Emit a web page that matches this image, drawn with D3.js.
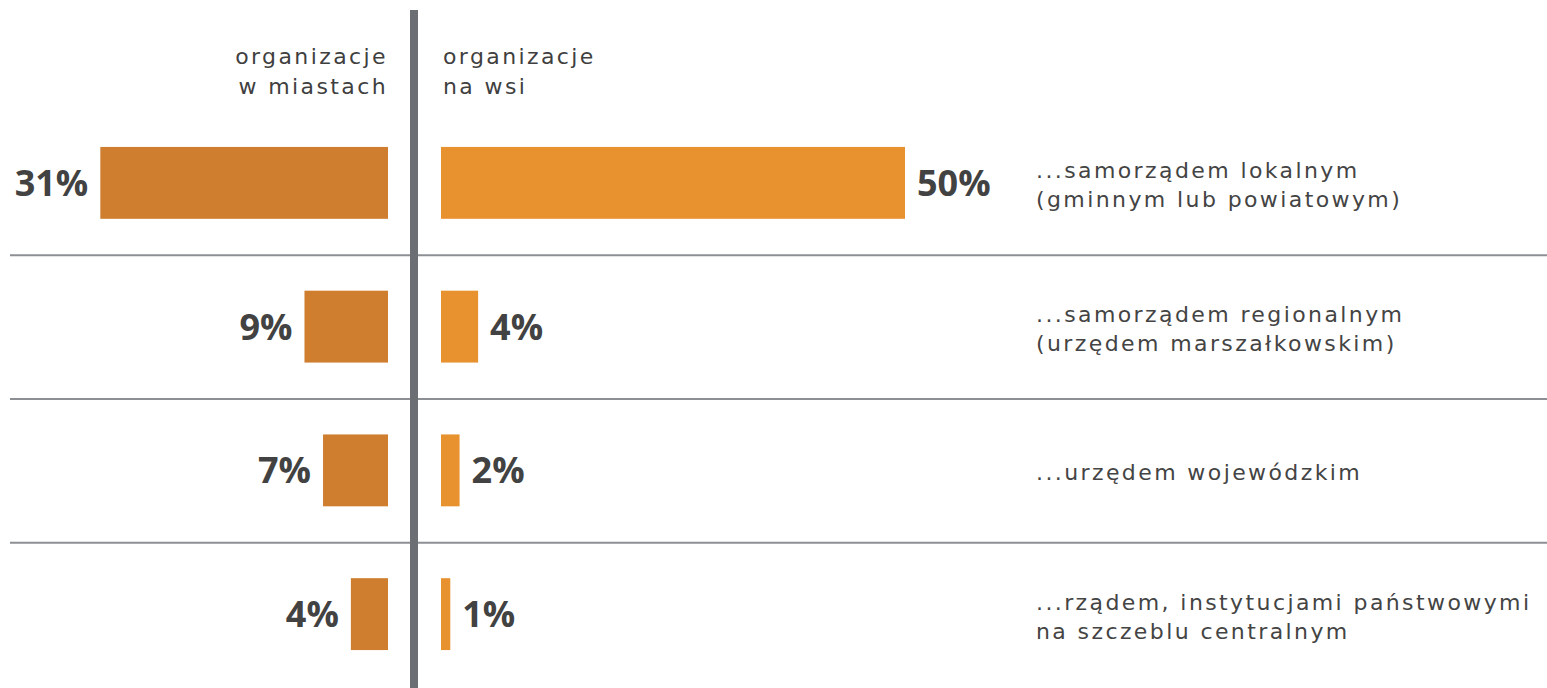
<!DOCTYPE html>
<html>
<head>
<meta charset="utf-8">
<script src="https://cdn.jsdelivr.net/npm/d3@7"></script>
<style>
  body { margin: 0; background: #fff; }
  svg { display: block; }
  .head { font-family: 'DejaVu Sans', sans-serif; font-size: 22px; letter-spacing: 2.4px; fill: #3f3f3f; }
  .cat { font-family: 'DejaVu Sans', sans-serif; font-size: 22px; letter-spacing: 2.4px; fill: #444; }
  .value { font-family: 'Open Sans', sans-serif; font-weight: 700; font-size: 36px; fill: #424242; }
</style>
</head>
<body>
<svg width="1547" height="688"></svg>
<script>
const categories = [
  ['...samorządem lokalnym', '(gminnym lub powiatowym)'],
  ['...samorządem regionalnym', '(urzędem marszałkowskim)'],
  ['...urzędem wojewódzkim'],
  ['...rządem, instytucjami państwowymi', 'na szczeblu centralnym']
];
const cityValues = [31, 9, 7, 4];
const villageValues = [50, 4, 2, 1];
const headers = [['organizacje', 'w miastach'], ['organizacje', 'na wsi']];

const width = 1547, height = 688;
const axisX = 414;
const leftEdge = 388, rightEdge = 441;
const catX = 1036;

const svg = d3.select('svg');

const rows = categories.map((c, i) => i);

const y = d3.scaleBand()
  .domain(rows)
  .range([111, 686])
  .paddingInner(0.5)
  .paddingOuter(0.25);

const x = d3.scaleLinear()
  .domain([0, 50])
  .range([0, 464]);

// separators between rows
svg.append('g')
  .selectAll('line')
  .data(rows.slice(1))
  .join('line')
  .attr('x1', 10)
  .attr('x2', width)
  .attr('y1', (d) => y(d) - y.step() * 0.25 + 0.5)
  .attr('y2', (d) => y(d) - y.step() * 0.25 + 0.5)
  .attr('stroke', '#8c8f93')
  .attr('stroke-width', 2);

// left bars (cities)
svg.append('g')
  .selectAll('rect')
  .data(cityValues)
  .join('rect')
  .attr('x', (d) => leftEdge - x(d))
  .attr('y', (d, i) => y(i))
  .attr('width', (d) => x(d))
  .attr('height', y.bandwidth())
  .attr('fill', '#cf7d2e');

// right bars (villages)
svg.append('g')
  .selectAll('rect')
  .data(villageValues)
  .join('rect')
  .attr('x', rightEdge)
  .attr('y', (d, i) => y(i))
  .attr('width', (d) => x(d))
  .attr('height', y.bandwidth())
  .attr('fill', '#e8922f');

// value labels
svg.append('g')
  .selectAll('text')
  .data(cityValues)
  .join('text')
  .attr('class', 'value')
  .attr('x', (d) => leftEdge - x(d) - 12)
  .attr('y', (d, i) => y(i) + y.bandwidth() / 2)
  .attr('dy', '0.36em')
  .attr('text-anchor', 'end')
  .text((d) => `${d}%`);

svg.append('g')
  .selectAll('text')
  .data(villageValues)
  .join('text')
  .attr('class', 'value')
  .attr('x', (d) => rightEdge + x(d) + 12)
  .attr('y', (d, i) => y(i) + y.bandwidth() / 2)
  .attr('dy', '0.36em')
  .attr('text-anchor', 'start')
  .text((d) => `${d}%`);

// category labels
const catG = svg.append('g')
  .selectAll('text')
  .data(categories)
  .join('text')
  .attr('class', 'cat')
  .attr('y', (d, i) => y(i) + y.bandwidth() / 2 + 10 - (d.length - 1) * 14.5);

catG.selectAll('tspan')
  .data((d) => d)
  .join('tspan')
  .attr('x', catX)
  .attr('dy', (d, j) => j === 0 ? 0 : 29)
  .text((d) => d);

// headers
headers.forEach((h, k) => {
  svg.append('text')
    .attr('class', 'head')
    .attr('text-anchor', k === 0 ? 'end' : 'start')
    .selectAll('tspan')
    .data(h)
    .join('tspan')
    .attr('x', k === 0 ? leftEdge : rightEdge + 2)
    .attr('y', (d, j) => 64 + j * 30)
    .text((d) => d);
});

// central axis
svg.append('line')
  .attr('x1', axisX)
  .attr('x2', axisX)
  .attr('y1', 10)
  .attr('y2', height)
  .attr('stroke', '#6b6e72')
  .attr('stroke-width', 8);
</script>
</body>
</html>
